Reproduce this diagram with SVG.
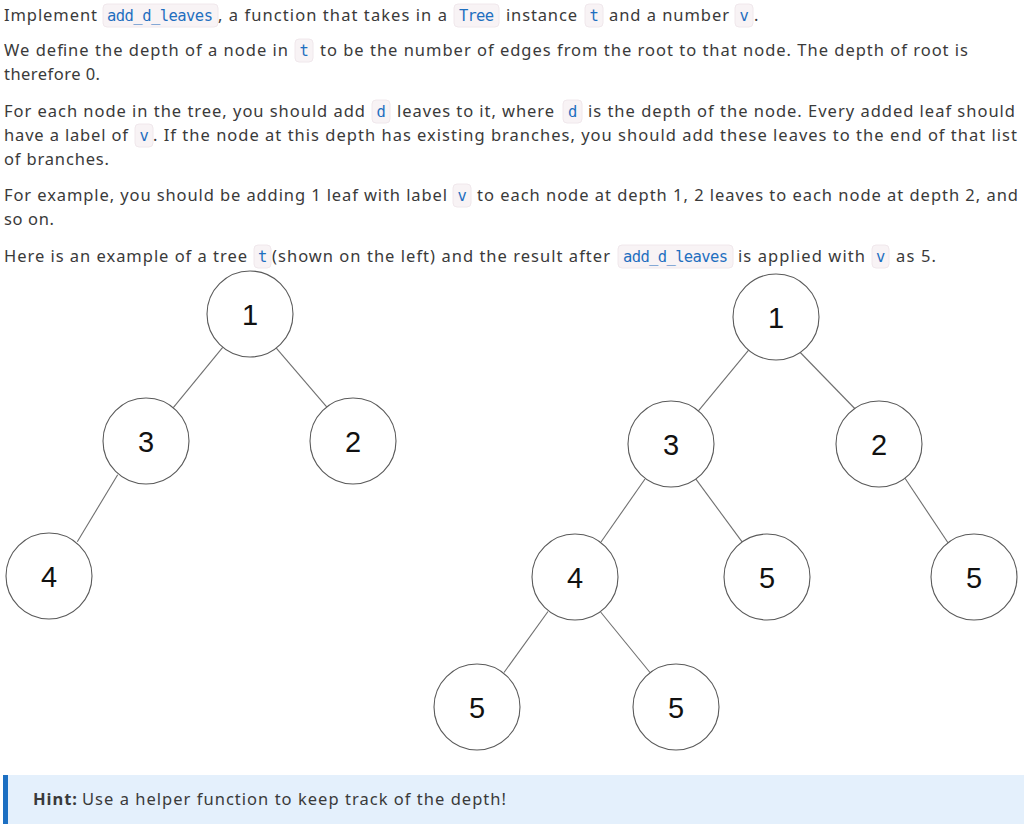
<svg xmlns="http://www.w3.org/2000/svg" width="1024" height="835" viewBox="0 0 1024 835">
<style>
.p{font-family:"Noto Sans","Open Sans",sans-serif;font-size:16.5px;fill:#3a3a3a}
.c{font-family:"DejaVu Sans Mono","Liberation Mono",monospace;font-size:15.5px;fill:#1f6fc0}
.cb{fill:#f8f3f5;stroke:#f0e8ec;stroke-width:1}
.n circle{fill:#fff;stroke:#5a5a5a;stroke-width:1.1}
.n text{font-family:"Liberation Sans",Arial,sans-serif;font-size:29px;fill:#111;text-anchor:middle}
.e line{stroke:#6f6f6f;stroke-width:1.1}
</style>
<rect width="1024" height="835" fill="#fff"/>
<g id="text">
<text class="p" x="4" y="21" textLength="93" lengthAdjust="spacing">Implement</text>
<rect class="cb" x="103" y="4" width="115" height="23" rx="4"/><text class="c" x="107" y="21" textLength="106" lengthAdjust="spacing">add_d_leaves</text>
<text class="p" x="218" y="21" textLength="229" lengthAdjust="spacing">, a function that takes in a</text>
<rect class="cb" x="454" y="4" width="45" height="23" rx="4"/><text class="c" x="459" y="21" textLength="35" lengthAdjust="spacing">Tree</text>
<text class="p" x="506" y="21" textLength="71" lengthAdjust="spacing">instance</text>
<rect class="cb" x="585" y="4" width="18" height="23" rx="4"/><text class="c" x="589.5" y="21">t</text>
<text class="p" x="609" y="21" textLength="120" lengthAdjust="spacing">and a number</text>
<rect class="cb" x="735" y="4" width="18" height="23" rx="4"/><text class="c" x="739.5" y="21">v</text>
<text class="p" x="754" y="21">.</text>

<text class="p" x="4" y="56" textLength="284" lengthAdjust="spacing">We define the depth of a node in</text>
<rect class="cb" x="295" y="39" width="18" height="23" rx="4"/><text class="c" x="299.5" y="56">t</text>
<text class="p" x="320" y="56" textLength="648" lengthAdjust="spacing">to be the number of edges from the root to that node. The depth of root is</text>
<text class="p" x="4" y="80" textLength="96" lengthAdjust="spacing">therefore 0.</text>

<text class="p" x="4" y="117" textLength="361" lengthAdjust="spacing">For each node in the tree, you should add</text>
<rect class="cb" x="372" y="100" width="18" height="23" rx="4"/><text class="c" x="376.5" y="117">d</text>
<text class="p" x="397" y="117" textLength="157" lengthAdjust="spacing">leaves to it, where</text>
<rect class="cb" x="563" y="100" width="19" height="23" rx="4"/><text class="c" x="568" y="117">d</text>
<text class="p" x="588" y="117" textLength="427" lengthAdjust="spacing">is the depth of the node. Every added leaf should</text>
<text class="p" x="4" y="141" textLength="124" lengthAdjust="spacing">have a label of</text>
<rect class="cb" x="135" y="124" width="18" height="23" rx="4"/><text class="c" x="139.5" y="141">v</text>
<text class="p" x="153" y="141" textLength="864" lengthAdjust="spacing">. If the node at this depth has existing branches, you should add these leaves to the end of that list</text>
<text class="p" x="4" y="165" textLength="105" lengthAdjust="spacing">of branches.</text>

<text class="p" x="4" y="201" textLength="443" lengthAdjust="spacing">For example, you should be adding 1 leaf with label</text>
<rect class="cb" x="453" y="184" width="18" height="23" rx="4"/><text class="c" x="457.5" y="201">v</text>
<text class="p" x="477" y="201" textLength="541" lengthAdjust="spacing">to each node at depth 1, 2 leaves to each node at depth 2, and</text>
<text class="p" x="4" y="225" textLength="50" lengthAdjust="spacing">so on.</text>

<text class="p" x="4" y="262" textLength="243" lengthAdjust="spacing">Here is an example of a tree</text>
<rect class="cb" x="254" y="245" width="17" height="23" rx="4"/><text class="c" x="258" y="262">t</text>
<text class="p" x="272" y="262" textLength="338" lengthAdjust="spacing">(shown on the left) and the result after</text>
<rect class="cb" x="618" y="245" width="115" height="23" rx="4"/><text class="c" x="623" y="262" textLength="105" lengthAdjust="spacing">add_d_leaves</text>
<text class="p" x="738" y="262" textLength="127" lengthAdjust="spacing">is applied with</text>
<rect class="cb" x="872" y="245" width="17" height="23" rx="4"/><text class="c" x="876" y="262">v</text>
<text class="p" x="896" y="262" textLength="40" lengthAdjust="spacing">as 5.</text>
</g>

<g id="connectors" class="e">
<line x1="222.7" y1="347.3" x2="173.3" y2="407.7"/>
<line x1="276.3" y1="348.1" x2="326.7" y2="406.9"/>
<line x1="117.7" y1="474.8" x2="77.3" y2="541.7"/>
<line x1="748.6" y1="350.1" x2="698.4" y2="410.9"/>
<line x1="800.3" y1="352.5" x2="854.7" y2="408.5"/>
<line x1="645.0" y1="479.0" x2="601.0" y2="542.0"/>
<line x1="695.9" y1="479.1" x2="742.1" y2="541.9"/>
<line x1="905.0" y1="478.3" x2="948.0" y2="542.7"/>
<line x1="548.0" y1="611.5" x2="504.0" y2="672.5"/>
<line x1="600.6" y1="612.0" x2="650.4" y2="673.0"/>
</g>

<g id="left-1" class="n"><circle cx="250" cy="314" r="43"/><text x="250" y="325">1</text></g>
<g id="left-3" class="n"><circle cx="146" cy="441" r="43"/><text x="146" y="452">3</text></g>
<g id="left-2" class="n"><circle cx="353" cy="441" r="43"/><text x="353" y="452">2</text></g>
<g id="left-4" class="n"><circle cx="49" cy="576" r="43"/><text x="49" y="587">4</text></g>

<g id="right-1" class="n"><circle cx="776" cy="317" r="43"/><text x="776" y="328">1</text></g>
<g id="right-3" class="n"><circle cx="671" cy="444" r="43"/><text x="671" y="455">3</text></g>
<g id="right-2" class="n"><circle cx="879" cy="444" r="43"/><text x="879" y="455">2</text></g>
<g id="right-4" class="n"><circle cx="575" cy="577" r="43"/><text x="575" y="588">4</text></g>
<g id="right-5a" class="n"><circle cx="767" cy="577" r="43"/><text x="767" y="588">5</text></g>
<g id="right-5b" class="n"><circle cx="974" cy="577" r="43"/><text x="974" y="588">5</text></g>
<g id="right-5c" class="n"><circle cx="477" cy="707" r="43"/><text x="477" y="718">5</text></g>
<g id="right-5d" class="n"><circle cx="676" cy="707" r="43"/><text x="676" y="718">5</text></g>

<g id="hint">
<rect x="3" y="775" width="1021" height="49" fill="#e4f0fc"/>
<rect x="3" y="775" width="5" height="49" fill="#1c6fc2"/>
<text class="p" x="33" y="805" font-weight="bold" fill="#2a2a2a" textLength="44" lengthAdjust="spacing">Hint:</text>
<text class="p" x="82" y="805" textLength="424" lengthAdjust="spacing">Use a helper function to keep track of the depth!</text>
</g>
</svg>
